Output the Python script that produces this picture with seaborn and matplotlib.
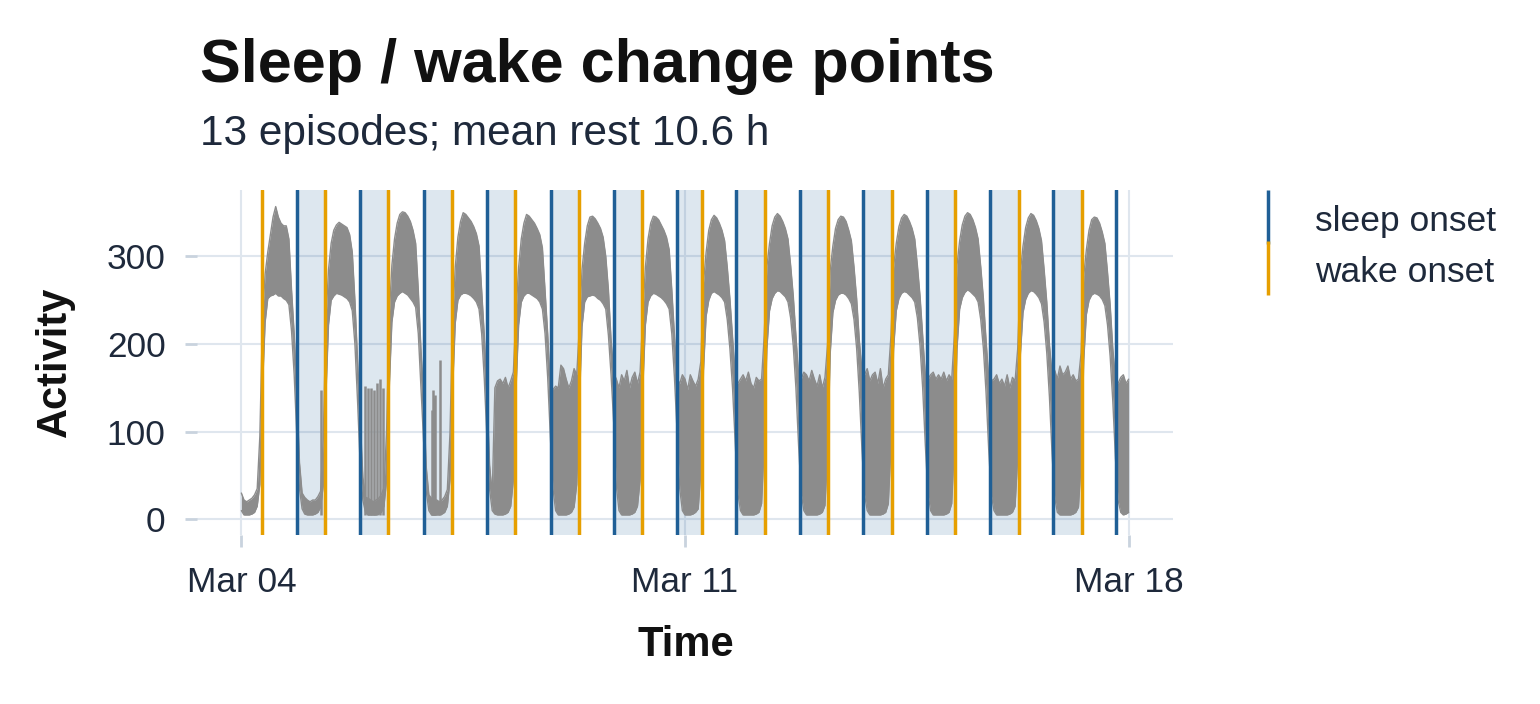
import pandas as pd
import matplotlib
matplotlib.use("Agg")
import matplotlib.pyplot as plt
import matplotlib.dates as mdates
from matplotlib.lines import Line2D
import seaborn as sns

START = pd.Timestamp("2024-03-04")

# hourly activity envelope (lower / upper), one row per date, hours 0..23
activity_low = [
    [10, 5, 5, 5, 6, 8, 15, 40, 150, 225, 252, 255, 256, 258, 255, 255, 252, 250, 245, 215, 165, 95, 35, 12],
    [6, 5, 5, 5, 6, 8, 14, 38, 140, 222, 250, 255, 258, 257, 256, 254, 252, 248, 238, 200, 135, 62, 22, 8],
    [5, 5, 5, 5, 6, 8, 15, 45, 150, 225, 248, 255, 258, 260, 258, 256, 252, 248, 242, 212, 150, 90, 32, 10],
    [5, 5, 5, 5, 6, 8, 15, 45, 148, 224, 250, 256, 258, 258, 257, 255, 252, 248, 240, 212, 160, 92, 34, 10],
    [6, 5, 5, 5, 6, 8, 15, 45, 148, 222, 248, 255, 258, 258, 256, 254, 252, 248, 240, 212, 162, 95, 35, 10],
    [5, 5, 5, 5, 6, 8, 14, 40, 130, 220, 248, 254, 255, 256, 255, 252, 250, 246, 240, 210, 165, 110, 38, 10],
    [5, 5, 5, 5, 6, 8, 15, 45, 148, 222, 248, 255, 258, 257, 255, 253, 250, 246, 240, 212, 162, 100, 35, 10],
    [5, 5, 5, 6, 8, 12, 55, 170, 232, 250, 258, 260, 258, 256, 253, 248, 228, 195, 150, 88, 30, 10, 5, 5],
    [5, 5, 5, 6, 8, 18, 85, 195, 238, 252, 258, 261, 260, 257, 254, 248, 230, 198, 150, 85, 30, 10, 5, 5],
    [5, 5, 5, 6, 8, 16, 75, 190, 236, 250, 256, 258, 258, 256, 252, 246, 228, 195, 145, 80, 28, 10, 5, 5],
    [5, 5, 5, 6, 8, 18, 85, 195, 238, 252, 258, 260, 259, 256, 253, 248, 230, 198, 150, 85, 30, 10, 5, 5],
    [5, 5, 5, 6, 8, 18, 85, 195, 240, 253, 259, 262, 260, 257, 254, 248, 228, 195, 145, 80, 28, 10, 5, 5],
    [5, 5, 5, 6, 8, 15, 72, 188, 236, 251, 258, 261, 260, 257, 253, 246, 225, 190, 140, 75, 25, 8, 5, 5],
    [5, 5, 5, 6, 8, 14, 65, 182, 234, 250, 256, 258, 257, 255, 251, 244, 222, 186, 135, 70, 22, 8, 5, 6],
]
activity_high = [
    [30, 22, 20, 22, 24, 28, 35, 95, 230, 280, 305, 325, 345, 357, 345, 338, 335, 335, 320, 262, 212, 148, 65, 30],
    [25, 22, 20, 22, 22, 26, 32, 90, 225, 285, 315, 330, 336, 339, 337, 335, 333, 325, 305, 250, 182, 112, 48, 25],
    [24, 22, 20, 22, 24, 28, 36, 100, 232, 290, 320, 338, 348, 351, 350, 346, 340, 330, 315, 262, 195, 140, 60, 28],
    [24, 22, 22, 20, 22, 26, 34, 98, 228, 288, 322, 340, 350, 348, 344, 340, 334, 326, 312, 262, 210, 145, 62, 28],
    [150, 158, 160, 155, 162, 150, 158, 168, 235, 288, 320, 338, 348, 346, 342, 338, 332, 325, 310, 262, 212, 150, 148, 152],
    [150, 176, 172, 160, 150, 158, 172, 165, 220, 285, 315, 335, 345, 346, 343, 338, 332, 322, 300, 262, 205, 167, 160, 150],
    [165, 158, 170, 150, 162, 168, 155, 168, 232, 288, 320, 338, 346, 345, 342, 336, 330, 322, 308, 262, 210, 160, 155, 165],
    [160, 148, 165, 158, 152, 160, 180, 270, 305, 330, 342, 347, 344, 338, 330, 318, 288, 252, 208, 165, 155, 160, 165, 158],
    [168, 155, 150, 162, 158, 160, 210, 288, 315, 335, 345, 349, 346, 340, 332, 320, 290, 255, 210, 165, 160, 168, 165, 158],
    [170, 160, 152, 165, 150, 162, 200, 285, 312, 332, 342, 346, 345, 340, 330, 318, 288, 252, 205, 170, 165, 172, 158, 165],
    [168, 155, 172, 150, 160, 165, 210, 288, 315, 334, 344, 348, 346, 340, 332, 320, 290, 255, 210, 165, 160, 165, 168, 160],
    [165, 160, 168, 158, 165, 160, 210, 290, 318, 336, 346, 350, 348, 342, 333, 320, 288, 252, 205, 162, 158, 160, 165, 155],
    [160, 152, 165, 150, 162, 158, 195, 282, 312, 333, 344, 349, 347, 341, 332, 318, 285, 248, 200, 165, 170, 160, 175, 165],
    [168, 175, 160, 165, 158, 160, 190, 278, 308, 330, 342, 345, 344, 338, 328, 315, 282, 245, 195, 160, 155, 162, 165, 155],
]
last_low, last_high = 8, 160  # Mar 18 00:00

# isolated spikes in the first quiet nights (hours since start, activity)
spike_hours = [30.0, 46.7, 47.9, 49.2, 50.4, 51.5, 52.6, 53.7, 72.1, 72.5, 73.0, 73.5, 75.2]
spike_values = [148, 152, 150, 150, 148, 156, 160, 150, 125, 148, 138, 142, 182]

# change points, hours since start
sleep_onset_h = [21.2, 45.1, 69.2, 93.2, 117.2, 141.1, 165.1, 187.5, 211.5, 235.5, 259.5, 283.4, 307.4, 331.3]
wake_onset_h = [7.7, 31.8, 55.7, 79.7, 103.7, 127.9, 151.7, 174.6, 198.2, 222.3, 246.2, 270.2, 294.4, 318.5]

BLUE = "#1f5f96"
ORANGE = "#e69f00"
GREY = "#8c8c8c"
GRID = "#dfe6ee"
TEXT = "#1e293b"

low = [v for day in activity_low for v in day] + [last_low]
high = [v for day in activity_high for v in day] + [last_high]
df = pd.DataFrame({
    "time": pd.date_range(START, periods=len(low), freq="h"),
    "low": low,
    "high": high,
})
hrs = lambda h: START + pd.Timedelta(hours=h)

sns.set_theme(style="whitegrid")
plt.rcParams["font.family"] = ["Liberation Sans", "DejaVu Sans"]

fig = plt.figure(figsize=(15.4, 7.04), dpi=100)
ax = fig.add_axes([197 / 1540, 1 - 535 / 704, (1173 - 197) / 1540, (535 - 190) / 704])
ax.set_facecolor("white")

# rest episodes: sleep onset -> next wake onset
for s, w in zip(sleep_onset_h[:-1], wake_onset_h[1:]):
    ax.axvspan(hrs(s), hrs(w), color=BLUE, alpha=0.15, lw=0, zorder=1)

ax.fill_between(df["time"], df["low"], df["high"], color=GREY, lw=0, zorder=2)
sns.lineplot(data=df, x="time", y="high", color=GREY, lw=1.0, ax=ax, zorder=2)
sns.lineplot(data=df, x="time", y="low", color=GREY, lw=1.0, ax=ax, zorder=2)
ax.vlines([hrs(h) for h in spike_hours], 5, spike_values, color=GREY, lw=1.8, zorder=2)

for h in sleep_onset_h:
    ax.axvline(hrs(h), color=BLUE, lw=2.5, zorder=3)
for h in wake_onset_h:
    ax.axvline(hrs(h), color=ORANGE, lw=2.5, zorder=3)

ax.set_xlim(START - pd.Timedelta(days=0.7), START + pd.Timedelta(days=14.7))
ax.set_ylim(-17.9, 375.9)
ax.set_yticks([0, 100, 200, 300])
ax.set_xticks([START, START + pd.Timedelta(days=7), START + pd.Timedelta(days=14)])
ax.xaxis.set_major_formatter(mdates.DateFormatter("%b %d"))

ax.grid(True, color=GRID, lw=1.5)
ax.set_axisbelow(True)
for sp in ax.spines.values():
    sp.set_visible(False)
ax.tick_params(axis="both", which="major", length=8.5, width=2, color="#c9d3de",
               labelsize=25.4, labelcolor=TEXT, pad=14, bottom=True, left=True)
ax.set_xlabel("")
ax.set_ylabel("")

fig.text(55 / 1540, 1 - 362 / 704, "Activity", rotation=90, ha="center", va="center",
         fontsize=30, fontweight="bold", color="#111111")
fig.text(686 / 1540, 1 - 645 / 704, "Time", ha="center", va="center",
         fontsize=30, fontweight="bold", color="#111111")
fig.text(200 / 1540, 1 - 82 / 704, "Sleep / wake change points", ha="left", va="baseline",
         fontsize=44, fontweight="bold", color="#111111")
fig.text(200 / 1540, 1 - 145 / 704, "13 episodes; mean rest 10.6 h", ha="left", va="baseline",
         fontsize=30.5, color=TEXT)

handles = [
    Line2D([], [], color=BLUE, marker="|", linestyle="None", markersize=39, markeredgewidth=2.5),
    Line2D([], [], color=ORANGE, marker="|", linestyle="None", markersize=39, markeredgewidth=2.5),
]
fig.legend(handles, ["sleep onset", "wake onset"], loc="upper left",
           bbox_to_anchor=(1254 / 1540, 1 - 203 / 704), frameon=False, fontsize=25.5,
           handlelength=0.8, handleheight=1.0, handletextpad=0.93, labelspacing=0.46,
           borderpad=0, borderaxespad=0, labelcolor=TEXT)

fig.savefig("out.png", dpi=100)
